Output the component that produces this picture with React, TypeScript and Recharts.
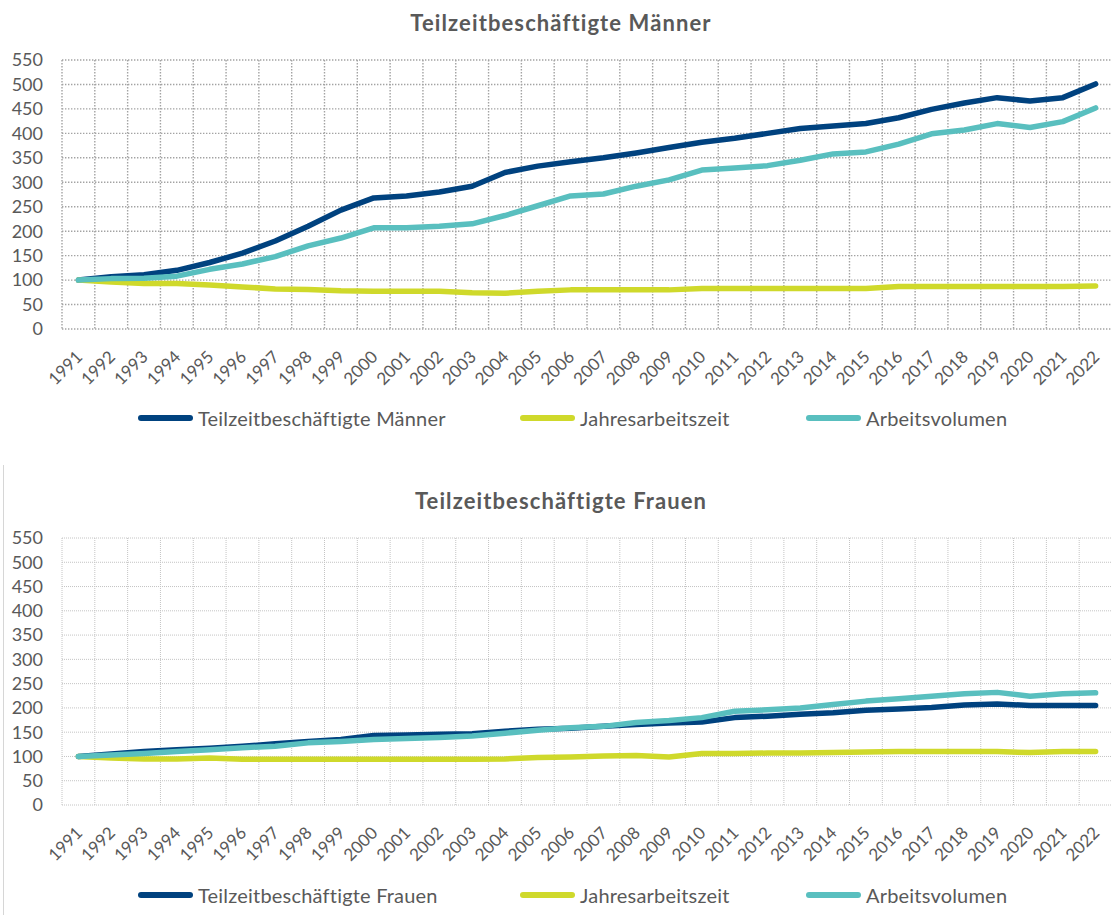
import { LineChart, Line, XAxis, YAxis, CartesianGrid } from 'recharts';

const years = [
  '1991', '1992', '1993', '1994', '1995', '1996', '1997', '1998', '1999', '2000', '2001',
  '2002', '2003', '2004', '2005', '2006', '2007', '2008', '2009', '2010', '2011', '2012',
  '2013', '2014', '2015', '2016', '2017', '2018', '2019', '2020', '2021', '2022',
];

const maennerPersonen = [
  100, 107, 111, 120, 136, 155, 180, 210, 243, 268, 272, 280, 292, 320, 333, 342,
  350, 360, 371, 382, 390, 400, 410, 415, 420, 432, 449, 462, 473, 466, 473, 501,
];
const maennerJahresarbeitszeit = [
  100, 96, 93, 93, 90, 86, 82, 81, 78, 77, 77, 77, 74, 73, 77, 80,
  80, 80, 80, 83, 83, 83, 83, 83, 83, 87, 87, 87, 87, 87, 87, 88,
];
const maennerVolumen = [
  100, 103, 104, 108, 122, 133, 148, 170, 186, 207, 207, 210, 215, 232, 252, 272,
  276, 292, 305, 325, 329, 334, 345, 358, 362, 378, 399, 407, 420, 412, 424, 452,
];

const frauenPersonen = [
  100, 105, 110, 114, 117, 121, 126, 131, 135, 143, 144, 146, 147, 152, 156, 158,
  162, 166, 169, 171, 180, 183, 187, 190, 195, 198, 201, 206, 208, 205, 205, 205,
];
const frauenJahresarbeitszeit = [
  100, 97, 95, 95, 97, 94, 94, 94, 94, 94, 94, 94, 94, 95, 98, 99,
  101, 102, 99, 106, 106, 107, 107, 108, 109, 110, 110, 110, 110, 108, 110, 110,
];
const frauenVolumen = [
  100, 103, 106, 110, 114, 118, 121, 128, 131, 135, 137, 139, 142, 148, 154, 159,
  162, 170, 174, 180, 193, 196, 200, 207, 214, 219, 224, 229, 232, 224, 229, 231,
];

const yTicks = [0, 50, 100, 150, 200, 250, 300, 350, 400, 450, 500, 550];

const DARK = '#00427f';
const YELLOW = '#cfd92b';
const TEAL = '#59bfbf';
const TEXT = '#595959';
const FONT = 'Lato, "Noto Sans", sans-serif';

const buildRows = (a: number[], b: number[], c: number[]) =>
  years.map((year, i) => ({ year, personen: a[i], zeit: b[i], volumen: c[i] }));

const maennerData = buildRows(maennerPersonen, maennerJahresarbeitszeit, maennerVolumen);
const frauenData = buildRows(frauenPersonen, frauenJahresarbeitszeit, frauenVolumen);

function YearTick({ x, y, payload }: any) {
  return (
    <g transform={`translate(${x + 5},${y + 29})`}>
      <text x={0} y={0} textAnchor="end" transform="rotate(-45)" fill={TEXT} fontSize={17} fontFamily={FONT}>
        {payload.value}
      </text>
    </g>
  );
}

function LegendRow({ top, first }: { top: number; first: string }) {
  const items = [
    { name: first, color: DARK, left: 138 },
    { name: 'Jahresarbeitszeit', color: YELLOW, left: 520 },
    { name: 'Arbeitsvolumen', color: TEAL, left: 806 },
  ];
  return (
    <>
      {items.map((it) => (
        <div key={it.name} style={{ position: 'absolute', top: top - 13, left: it.left, height: 26, display: 'flex', alignItems: 'center' }}>
          <div style={{ width: 55, height: 6, borderRadius: 3, background: it.color, marginRight: 5 }} />
          <span style={{ fontSize: 20, color: TEXT, fontFamily: FONT, letterSpacing: 0.2 }}>{it.name}</span>
        </div>
      ))}
    </>
  );
}

interface PanelProps {
  data: any[];
  height: number;
  gridColor: string;
  dash: string;
  gridWidth: number;
}

function Panel({ data, height, gridColor, dash, gridWidth }: PanelProps) {
  return (
    <LineChart width={1112} height={height} data={data} margin={{ top: 60, right: 0, bottom: 0, left: 0 }}>
      <CartesianGrid
        stroke={gridColor}
        strokeDasharray={dash}
        strokeWidth={gridWidth}
        verticalCoordinatesGenerator={({ offset }: any) =>
          Array.from({ length: years.length + 1 }, (_, i) => offset.left + (i * offset.width) / years.length)
        }
      />
      <XAxis
        dataKey="year"
        interval={0}
        axisLine={false}
        tickLine={false}
        tickSize={0}
        tickMargin={0}
        height={111}
        padding={{ left: 16.4, right: 16.4 }}
        tick={<YearTick />}
      />
      <YAxis
        domain={[0, 550]}
        ticks={yTicks}
        interval={0}
        width={62}
        axisLine={false}
        tickLine={false}
        tickSize={0}
        tickMargin={19}
        tick={{ fill: TEXT, fontSize: 18, fontFamily: FONT }}
      />
      <Line dataKey="personen" stroke={DARK} strokeWidth={5.5} dot={false} strokeLinecap="round" strokeLinejoin="round" isAnimationActive={false} />
      <Line dataKey="zeit" stroke={YELLOW} strokeWidth={5.5} dot={false} strokeLinecap="round" strokeLinejoin="round" isAnimationActive={false} />
      <Line dataKey="volumen" stroke={TEAL} strokeWidth={5.5} dot={false} strokeLinecap="round" strokeLinejoin="round" isAnimationActive={false} />
    </LineChart>
  );
}

const titleStyle = {
  position: 'absolute' as const,
  left: 0,
  width: 1122,
  textAlign: 'center' as const,
  fontSize: 22,
  fontWeight: 700,
  letterSpacing: 1.1,
  color: TEXT,
  fontFamily: FONT,
};

export default function App() {
  return (
    <div style={{ position: 'absolute', left: 0, top: 0, width: 1111, height: 915, overflow: 'hidden', background: '#fff' }}>
      <div style={{ ...titleStyle, top: 9 }}>Teilzeitbeschäftigte Männer</div>
      <div style={{ position: 'absolute', left: 0, top: 0 }}>
        <Panel data={maennerData} height={440} gridColor="#a3a3a3" dash="1.4 1.6" gridWidth={1.4} />
      </div>
      <LegendRow top={418} first="Teilzeitbeschäftigte Männer" />

      <div style={{ position: 'absolute', left: 3, top: 465, width: 1, height: 450, background: '#d6d6d6' }} />
      <div style={{ ...titleStyle, top: 487 }}>Teilzeitbeschäftigte Frauen</div>
      <div style={{ position: 'absolute', left: 0, top: 478 }}>
        <Panel data={frauenData} height={438} gridColor="#c4c4c4" dash="1 1" gridWidth={1} />
      </div>
      <LegendRow top={895} first="Teilzeitbeschäftigte Frauen" />
    </div>
  );
}
